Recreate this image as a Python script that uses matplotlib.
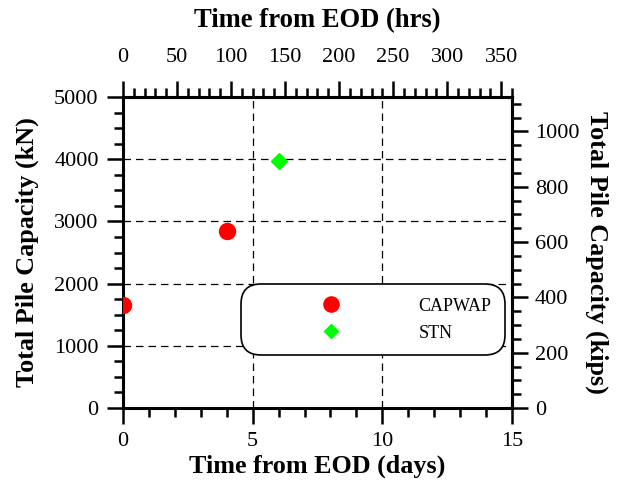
import matplotlib.pyplot as plt
from matplotlib.ticker import MultipleLocator

plt.rcParams['font.family'] = ['Liberation Serif', 'DejaVu Serif']

# data (days, kN)
capwap_days = [0, 4]
capwap_kn = [1650, 2850]
stn_days = [6]
stn_kn = [3970]

KN_PER_KIP = 4.448

fig = plt.figure(figsize=(6.21, 4.87), dpi=100)
ax = fig.add_axes([0.198, 0.1622, 0.6265, 0.6386])

ax.plot(capwap_days, capwap_kn, 'o', color='#ff0000', markersize=11.5,
        linestyle='none', label='CAPWAP', zorder=3)
ax.plot(stn_days, stn_kn, 'D', color='#00ff00', markersize=8,
        linestyle='none', label='STN', zorder=3)

ax.set_xlim(0, 15)
ax.set_ylim(0, 5000)
ax.xaxis.set_major_locator(MultipleLocator(5))
ax.xaxis.set_minor_locator(MultipleLocator(1))
ax.yaxis.set_major_locator(MultipleLocator(1000))
ax.yaxis.set_minor_locator(MultipleLocator(250))
ax.grid(True, which='major', color='black', linestyle=(0, (6, 4)), linewidth=0.9)

for s in ax.spines.values():
    s.set_linewidth(2.2)

tick_kw = dict(direction='out', width=1.8, labelsize=16)
ax.tick_params(axis='x', which='major', length=11.5, pad=6, **tick_kw)
ax.tick_params(axis='y', which='major', length=11.5, pad=6, **tick_kw)
ax.tick_params(which='minor', length=6.5, **tick_kw)

ax.set_xlabel('Time from EOD (days)', fontsize=18.8, fontweight='bold', labelpad=2)
ax.set_ylabel('Total Pile Capacity (kN)', fontsize=18.8, fontweight='bold', labelpad=11)

# top axis in hours
top = ax.secondary_xaxis('top', functions=(lambda d: d * 24, lambda h: h / 24))
top.xaxis.set_major_locator(MultipleLocator(50))
top.xaxis.set_minor_locator(MultipleLocator(10))
top.tick_params(which='major', length=11.5, pad=10, **tick_kw)
top.tick_params(which='minor', length=6.5, **tick_kw)
top.spines['top'].set_linewidth(2.2)
top.set_xlabel('Time from EOD (hrs)', fontsize=19.2, fontweight='bold', labelpad=15)

# right axis in kips
right = ax.secondary_yaxis('right', functions=(lambda k: k / KN_PER_KIP,
                                               lambda p: p * KN_PER_KIP))
right.yaxis.set_major_locator(MultipleLocator(200))
right.yaxis.set_minor_locator(MultipleLocator(50))
right.tick_params(which='major', length=11.5, pad=5, **tick_kw)
right.tick_params(which='minor', length=6.5, **tick_kw)
right.spines['right'].set_linewidth(2.2)
right.set_ylabel('Total Pile Capacity (kips)', fontsize=18.8, fontweight='bold',
                 rotation=270, labelpad=21)

leg = ax.legend(loc='lower left', bbox_to_anchor=(0.303, 0.17), fontsize=13,
                frameon=True, fancybox=True, handlelength=8.5, handletextpad=0.6,
                borderpad=0.75, labelspacing=0.55, borderaxespad=0, markerscale=0.95)
frame = leg.get_frame()
frame.set_edgecolor('black')
frame.set_linewidth(1.2)
frame.set_alpha(1)
frame.set_boxstyle('round', pad=0, rounding_size=1.1)
leg.set_zorder(5)

fig.savefig('out.png', dpi=100)
